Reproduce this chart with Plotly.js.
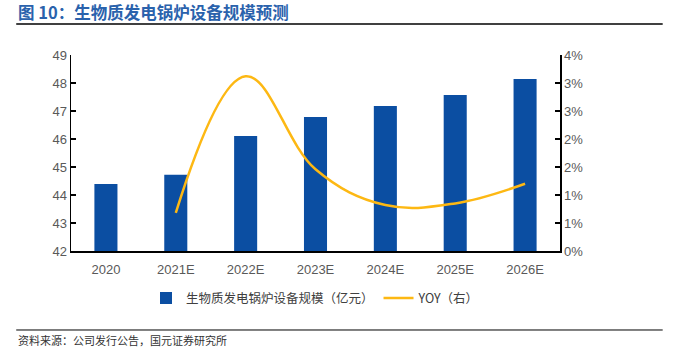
<!DOCTYPE html>
<html>
<head>
<meta charset="utf-8">
<script src="https://cdn.plot.ly/plotly-3.0.1.min.js"></script>
<style>
html,body{margin:0;padding:0;background:#fff;}
#chart{width:675px;height:354px;}
</style>
</head>
<body>
<div id="chart"></div>
<script>
const categories = ['2020', '2021E', '2022E', '2023E', '2024E', '2025E', '2026E'];
const scaleValues = [44.39, 44.72, 46.11, 46.79, 47.18, 47.57, 48.14];
const yoyCategories = ['2021E', '2022E', '2023E', '2024E', '2025E', '2026E'];
const yoyValues = [0.0068, 0.0312, 0.0146, 0.0082, 0.0085, 0.0120];
const leftTicks = [42, 43, 44, 45, 46, 47, 48, 49];
const rightTickVals = [0, 0.005, 0.01, 0.015, 0.02, 0.025, 0.03, 0.035];
const rightTickText = ['0%', '1%', '1%', '2%', '2%', '3%', '3%', '4%'];
const barName = '生物质发电锅炉设备规模（亿元）';
const lineName = 'YOY（右）';
const titleText = '图 10：生物质发电锅炉设备规模预测';
const sourceText = '资料来源：公司发行公告，国元证券研究所';

const tickFont = {family: 'Liberation Sans, Arial, sans-serif', size: 13, color: '#595959'};

const data = [
  {
    type: 'bar', x: categories, y: scaleValues, name: barName,
    marker: {color: '#0B4EA2'}, yaxis: 'y'
  },
  {
    type: 'scatter', mode: 'lines', x: yoyCategories, y: yoyValues, name: lineName,
    line: {color: '#FDB813', width: 2.5, shape: 'spline', smoothing: 1.1}, yaxis: 'y2'
  }
];

const layout = {
  width: 675, height: 354,
  margin: {l: 71, r: 115, t: 55, b: 103},
  paper_bgcolor: '#fff', plot_bgcolor: '#fff',
  bargap: 0.67,
  showlegend: true,
  legend: {
    orientation: 'h', x: 0.5, xanchor: 'center', y: -0.165, yanchor: 'top',
    font: {family: 'Noto Sans CJK SC, sans-serif', size: 12.5, color: '#404040'},
    tracegroupgap: 0
  },
  xaxis: {
    type: 'category', showgrid: false, zeroline: false,
    showline: true, linecolor: '#000', linewidth: 1.5,
    ticks: '', tickfont: tickFont, ticklabelstandoff: 6
  },
  yaxis: {
    range: [42, 49], tickvals: leftTicks, showgrid: false, zeroline: false,
    showline: true, linecolor: '#000', linewidth: 1.5,
    ticks: 'inside', ticklen: 5, tickcolor: '#000', tickwidth: 1.5,
    tickfont: tickFont
  },
  yaxis2: {
    overlaying: 'y', side: 'right', range: [0, 0.035],
    tickvals: rightTickVals, ticktext: rightTickText,
    showgrid: false, zeroline: false,
    showline: true, linecolor: '#000', linewidth: 1.5,
    ticks: 'inside', ticklen: 5, tickcolor: '#000', tickwidth: 1.5,
    tickfont: tickFont
  },
  shapes: [
    {type: 'line', xref: 'paper', yref: 'paper', x0: -0.112, x1: 1.21, y0: 1.158, y1: 1.158, line: {color: '#000', width: 1.5}},
    {type: 'line', xref: 'paper', yref: 'paper', x0: -0.112, x1: 1.21, y0: -0.403, y1: -0.403, line: {color: '#000', width: 1}}
  ],
  annotations: [
    {xref: 'paper', yref: 'paper', x: -0.112, y: 1.219, xanchor: 'left', yanchor: 'middle', showarrow: false,
     text: '<b>' + titleText + '</b>', font: {family: 'Noto Sans CJK SC, sans-serif', size: 16.5, color: '#2A62AC'}},
    {xref: 'paper', yref: 'paper', x: -0.112, y: -0.454, xanchor: 'left', yanchor: 'middle', showarrow: false,
     text: sourceText, font: {family: 'Noto Sans CJK SC, sans-serif', size: 11, color: '#333'}}
  ]
};

Plotly.newPlot('chart', data, layout, {displayModeBar: false, staticPlot: true});
</script>
</body>
</html>
